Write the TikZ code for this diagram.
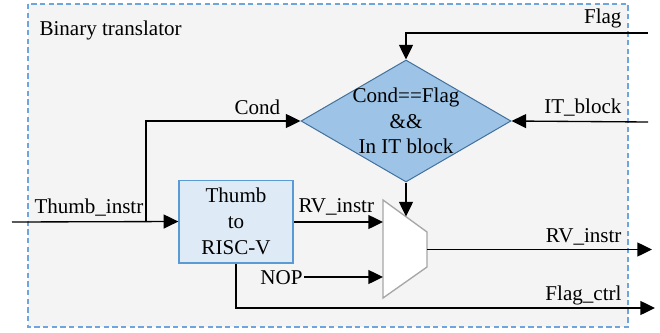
\documentclass[tikz,border=0pt]{standalone}
\usepackage{fontspec}
\setmainfont{Liberation Serif}
\usetikzlibrary{shapes.geometric,arrows.meta}

\definecolor{panelgray}{RGB}{244,244,244}
\definecolor{dashblue}{RGB}{110,165,220}
\definecolor{diafill}{RGB}{157,195,230}
\definecolor{diadraw}{RGB}{65,113,156}
\definecolor{boxfill}{RGB}{222,235,247}
\definecolor{boxdraw}{RGB}{91,155,213}
\definecolor{muxdraw}{RGB}{166,166,166}

\tikzset{every picture/.style={line width=0.75pt}}
\tikzset{
  sig/.style={line width=1pt,-{Triangle[length=11pt,width=10.5pt]}},
  wire/.style={line width=1pt},
  lbl/.style={inner sep=0.75pt,font=\fontsize{15.8}{19}\selectfont},
  decision/.style={diamond,draw=diadraw,fill=diafill,inner sep=0pt,
    minimum width=157.5pt,minimum height=91.5pt},
  convbox/.style={rectangle,draw=boxdraw,fill=boxfill,line width=1pt,
    minimum width=85.5pt,minimum height=62pt,align=center,
    font=\fontsize{15.8}{19.5}\selectfont}
}

\begin{document}
\begin{tikzpicture}[x=0.75pt,y=0.75pt,yscale=-1,xscale=1]
\useasboundingbox (0,0) rectangle (660,332);

%Shape: Rectangle [panel]
\draw [dashblue,dashed,fill=panelgray,line width=1pt,dash pattern=on 4pt off 2.5pt] (28,4) rectangle (628,327);
% Text Node
\node [lbl,anchor=base west] (title) at (38,35) {Binary translator};

%Shape: Diamond [check]
\node [decision] (check) at (406,121)
  {};
\node [lbl,align=center] (checktxt) at (406,121) {Cond==Flag\\\&\&\\In IT block};

%Shape: Rectangle [conv]
\node [convbox] (conv) at (236,221.5) {Thumb\\to\\RISC-V};

%Shape: Mux
\coordinate (m1) at (383,200);
\coordinate (m2) at (427,232);
\coordinate (m3) at (427,267);
\coordinate (m4) at (383,298);
\draw [muxdraw,fill=white,line width=1pt] (m1) -- (m2) -- (m3) -- (m4) -- cycle;
\coordinate (muxa) at (383,222);
\coordinate (muxb) at (383,277);
\coordinate (muxsel) at (406,216.5);
\coordinate (muxout) at (427,249.5);

%Ports
\coordinate (flagin) at (648,33);
\coordinate (itin) at (648,122);
\coordinate (thumbin) at (12,222);
\coordinate (split) at (146,222);
\coordinate (rvout) at (652,249.5);
\coordinate (ctrlout) at (655,308);

% Text Node
\node [lbl,anchor=base east] (flaglbl) at (623,23) {Flag};
\node [lbl,anchor=base east] (itlbl) at (623,113) {IT\_block};
\node [lbl,anchor=base west] (condlbl) at (233,114) {Cond};
\node [lbl,anchor=base west] (thumblbl) at (33,213) {Thumb\_instr};
\node [lbl,anchor=base west] (rvlbl) at (297,212) {RV\_instr};
\node [lbl,anchor=base east] (nop) at (304,284) {NOP};
\node [lbl,anchor=base east] (rvoutlbl) at (623,242) {RV\_instr};
\node [lbl,anchor=base east] (ctrllbl) at (623,300) {Flag\_ctrl};

%Straight Lines
\draw [sig] (flagin) -| (check.north);
\draw [sig] (itin) -- (check.east);
\draw [sig] (split) |- (check.west);
\draw [sig] (thumbin) -- (conv.west);
\draw [sig] (conv.east |- muxa) -- (muxa);
\draw [sig] (nop.east |- muxb) -- (muxb);
\draw [sig] (check.south) -- (muxsel);
\draw [sig] (muxout) -- (rvout);
\draw [sig] (conv.south) |- (ctrlout);

\end{tikzpicture}
\end{document}
